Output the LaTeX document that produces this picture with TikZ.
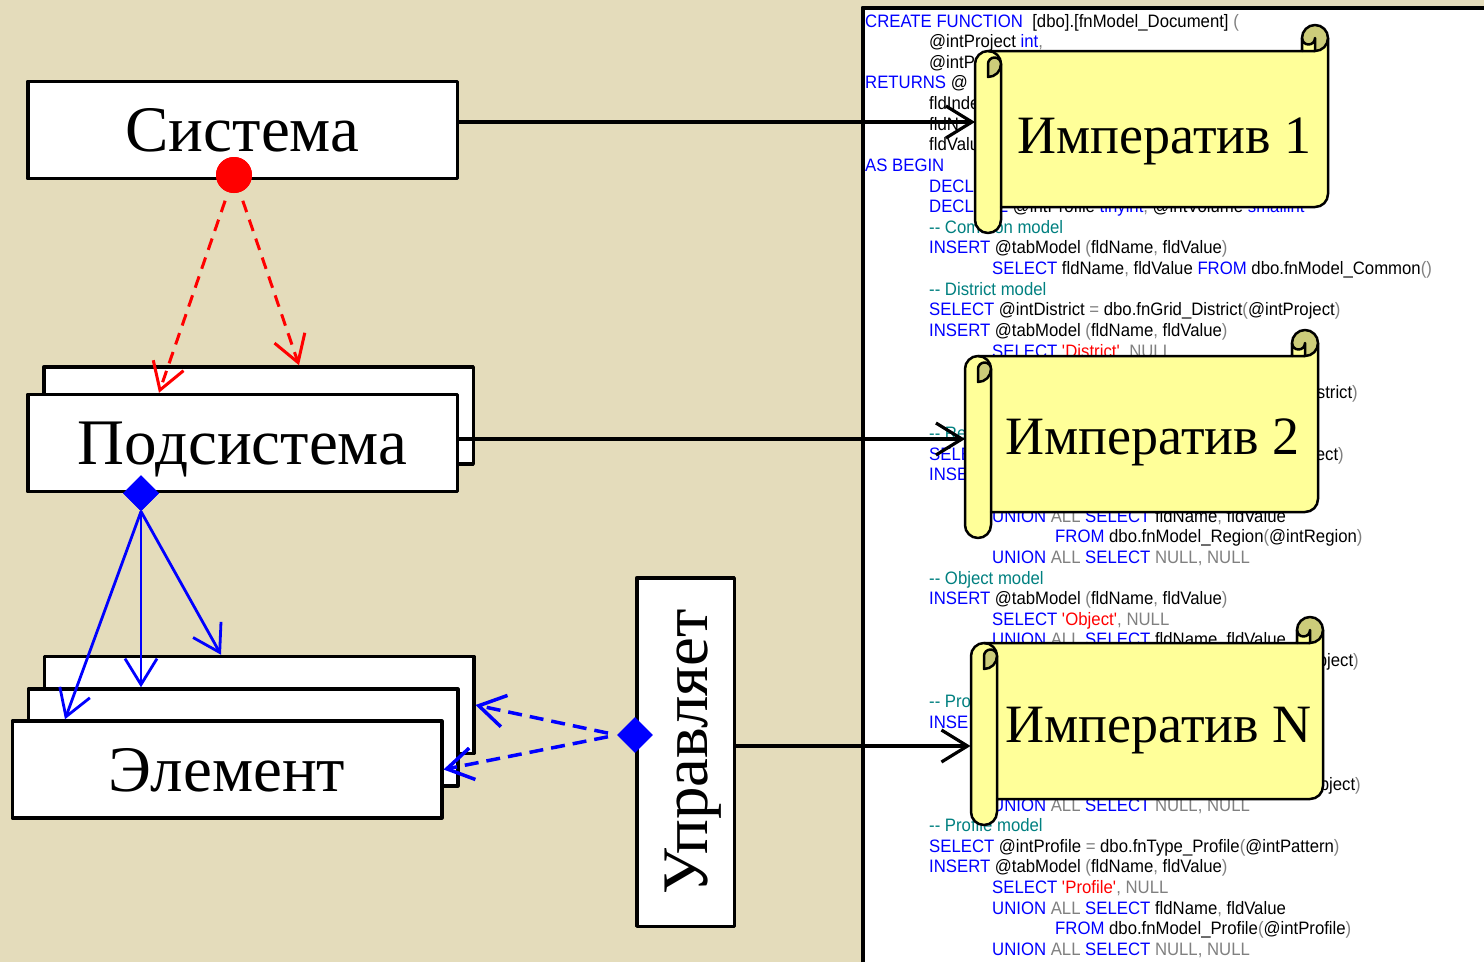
\documentclass[tikz,border=0pt]{standalone}
\usepackage{fontspec}
\setmainfont{Liberation Serif}
\newfontfamily\codefont[FakeStretch=0.93]{Liberation Sans}
\usetikzlibrary{arrows.meta,shapes.geometric,calc}

\definecolor{paper}{RGB}{228,220,187}
\definecolor{scrollyellow}{RGB}{255,255,153}
\definecolor{scrolldark}{RGB}{204,204,122}
\definecolor{sqlblue}{RGB}{0,0,255}
\definecolor{sqlteal}{RGB}{0,128,128}
\definecolor{sqlgray}{RGB}{128,128,128}
\definecolor{sqlred}{RGB}{255,0,0}

\newcommand{\boxfont}{\fontsize{65}{65}\selectfont}
\newcommand{\impfont}{\fontsize{54}{54}\selectfont}
\newcommand{\kw}[1]{\textcolor{sqlblue}{#1}}
\newcommand{\gry}[1]{\textcolor{sqlgray}{#1}}
\newcommand{\cmnt}[1]{\textcolor{sqlteal}{#1}}
\newcommand{\strg}[1]{\textcolor{sqlred}{\textquotesingle#1\textquotesingle}}
\newcommand{\dd}{\mbox{-}\mbox{-}}

% scroll: left, top, right, bottom (y grows downward)
\newcommand{\scrollshape}[4]{%
  \filldraw[scrollbody] ({#1+13},{#2+26}) -- ({#3-26},{#2+26}) -- ({#3-26},{#2+13}) -- (#3,{#2+13})
    -- (#3,{#4-39}) arc[start angle=0,end angle=90,radius=13]
    -- ({#1+26},{#4-26}) -- ({#1+26},{#4-13}) arc[start angle=0,end angle=180,radius=13]
    -- (#1,{#2+39}) arc[start angle=180,end angle=270,radius=13] -- cycle;
  \filldraw[scrollroll] ({#3-13},{#2+13}) circle[radius=13];
  \filldraw[scrollbody] ({#3-26},{#2+13}) arc[start angle=180,end angle=0,radius=6.5]
    -- ({#3-13},{#2+26}) -- ({#3-26},{#2+26}) -- cycle;
  \draw[scrollline] ({#1+13},{#2+26}) arc[start angle=270,end angle=360,radius=13] -- ({#1+26},{#4-26});
  \filldraw[scrollroll] ({#1+13},{#2+52}) arc[start angle=90,end angle=0,radius=13]
    arc[start angle=0,end angle=-180,radius=6.5] -- cycle;
}

\tikzset{
  umlbox/.style={draw, line width=3.5pt, fill=white, minimum width=429.5pt, minimum height=97pt,
    inner sep=0pt, font=\boxfont, text height=43pt, text depth=0pt},
  sqlline/.style={anchor=base west, inner sep=0pt, font=\codefont\fontsize{18}{18}\selectfont},
  sqlright/.style={sqlline, anchor=base east},
  implabel/.style={inner sep=0pt, font=\impfont, text height=36pt, text depth=0pt},
  scrollarea/.style={inner sep=0pt, outer sep=0pt, minimum width=353pt, minimum height=208pt},
  scrollbody/.style={fill=scrollyellow, draw=black, line width=2.5pt},
  scrollroll/.style={fill=scrolldark, draw=black, line width=2.5pt},
  scrollline/.style={draw=black, line width=2.5pt},
  opentip/.style={-{Straight Barb[length=26pt,width=32pt]}},
  wire/.style={opentip, line width=3.2pt},
  reddash/.style={opentip, draw=red, line width=3pt, dash pattern=on 12pt off 8pt, shorten <=9pt},
  bluewire/.style={opentip, draw=blue, line width=2.8pt},
  bluedash/.style={opentip, draw=blue, line width=3.5pt, dash pattern=on 14pt off 8pt, shorten <=9pt},
  bluediam/.style={diamond, fill=blue, minimum width=36pt, minimum height=36pt, inner sep=0pt},
  reddot/.style={circle, fill=red, minimum size=36pt, inner sep=0pt},
}

\begin{document}
\begin{tikzpicture}[x=1pt, y=-1pt, line join=round]
  \useasboundingbox (0,0) rectangle (1484,962);
  \fill[paper] (0,0) rectangle (1484,962);

  % code window
  \fill[white] (862.5,7.5) rectangle (1484,962);
  \draw[line width=4pt] (862.5,962) -- (862.5,7.5) -- (1484,7.5);

  \node[sqlline] (l1) at (865,27.0) {\kw{CREATE FUNCTION}\ \ [dbo].[fnModel\_Document] \gry{(}};
  \node[sqlline] (l2) at (929,47.6) {@intProject \kw{int}\gry{,}};
  \node[sqlline] (l3) at (929,68.3) {@intP};
  \node[sqlline] (l4) at (865,88.9) {\kw{RETURNS} @};
  \node[sqlline] (l5) at (929,109.5) {fldInde};
  \node[sqlline] (l6) at (929,130.2) {fldN};
  \node[sqlline] (l7) at (929,150.8) {fldValu};
  \node[sqlline] (l8) at (865,171.4) {\kw{AS BEGIN}};
  \node[sqlline] (l9) at (929,192.0) {\kw{DECL}};
  \node[sqlline] (l10) at (929,212.7) {\kw{DECLARE} @intProfile \kw{tinyint}\gry{,} @intVolume \kw{smallint}};
  \node[sqlline] (l11) at (929,233.3) {\cmnt{\dd{} Common model}};
  \node[sqlline] (l12) at (929,253.9) {\kw{INSERT} @tabModel \gry{(}fldName\gry{,} fldValue\gry{)}};
  \node[sqlline] (l13) at (992,274.6) {\kw{SELECT} fldName\gry{,} fldValue \kw{FROM} dbo.fnModel\_Common\gry{()}};
  \node[sqlline] (l14) at (929,295.2) {\cmnt{\dd{} District model}};
  \node[sqlline] (l15) at (929,315.8) {\kw{SELECT} @intDistrict \gry{=} dbo.fnGrid\_District\gry{(}@intProject\gry{)}};
  \node[sqlline] (l16) at (929,336.5) {\kw{INSERT} @tabModel \gry{(}fldName\gry{,} fldValue\gry{)}};
  \node[sqlline] (l17) at (992,357.1) {\kw{SELECT} \strg{District}\gry{, NULL}};
  \node[sqlright] (l19) at (1358,398.3) {strict\gry{)}};
  \node[sqlline] (l21) at (929,439.6) {\cmnt{\dd{} Re}};
  \node[sqlline] (l22) at (929,460.2) {\kw{SELE}};
  \node[sqlright] (l22r) at (1344,460.2) {ect\gry{)}};
  \node[sqlline] (l23) at (929,480.9) {\kw{INSE}};
  \node[sqlline] (l25) at (992,522.1) {\kw{UNION} \gry{ALL} \kw{SELECT} fldName\gry{,} fldValue};
  \node[sqlline] (l26) at (1055,542.8) {\kw{FROM} dbo.fnModel\_Region\gry{(}@intRegion\gry{)}};
  \node[sqlline] (l27) at (992,563.4) {\kw{UNION} \gry{ALL} \kw{SELECT} \gry{NULL, NULL}};
  \node[sqlline] (l28) at (929,584.0) {\cmnt{\dd{} Object model}};
  \node[sqlline] (l29) at (929,604.6) {\kw{INSERT} @tabModel \gry{(}fldName\gry{,} fldValue\gry{)}};
  \node[sqlline] (l30) at (992,625.3) {\kw{SELECT} \strg{Object}\gry{, NULL}};
  \node[sqlline] (l31) at (992,645.9) {\kw{UNION} \gry{ALL} \kw{SELECT} fldName\gry{,} fldValue};
  \node[sqlright] (l32) at (1359,666.5) {bject\gry{)}};
  \node[sqlline] (l34) at (929,707.8) {\cmnt{\dd{} Pro}};
  \node[sqlline] (l35) at (929,728.4) {\kw{INSE}};
  \node[sqlright] (l38) at (1361,790.3) {bject\gry{)}};
  \node[sqlline] (l39) at (992,811.0) {\kw{UNION} \gry{ALL} \kw{SELECT} \gry{NULL, NULL}};
  \node[sqlline] (l40) at (929,831.6) {\cmnt{\dd{} Profile model}};
  \node[sqlline] (l41) at (929,852.2) {\kw{SELECT} @intProfile \gry{=} dbo.fnType\_Profile\gry{(}@intPattern\gry{)}};
  \node[sqlline] (l42) at (929,872.9) {\kw{INSERT} @tabModel \gry{(}fldName\gry{,} fldValue\gry{)}};
  \node[sqlline] (l43) at (992,893.5) {\kw{SELECT} \strg{Profile}\gry{, NULL}};
  \node[sqlline] (l44) at (992,914.1) {\kw{UNION} \gry{ALL} \kw{SELECT} fldName\gry{,} fldValue};
  \node[sqlline] (l45) at (1055,934.7) {\kw{FROM} dbo.fnModel\_Profile\gry{(}@intProfile\gry{)}};
  \node[sqlline] (l46) at (992,955.4) {\kw{UNION} \gry{ALL} \kw{SELECT} \gry{NULL, NULL}};

  % scrolls
  \scrollshape{975}{25}{1328}{233}
  \scrollshape{965}{330}{1318}{538}
  \scrollshape{971}{617}{1323}{825}
  \node[scrollarea] (imp1) at (1151.5,129) {};
  \node[scrollarea] (imp2) at (1141.5,434) {};
  \node[scrollarea] (impN) at (1147,721) {};
  \node[implabel] (t1) at (1164.5,135) {Императив 1};
  \node[implabel] (t2) at (1152.5,436) {Императив 2};
  \node[implabel] (tN) at (1158.5,724) {Императив N};

  % classes
  \node[umlbox] (subb) at (258.5,415.5) {};
  \node[umlbox] (subf) at (242.5,443) {Подсистема};
  \node[umlbox] (elb) at (259,705) {};
  \node[umlbox] (elm) at (243,737.5) {};
  \node[umlbox] (elf) at (227,769.5) {Элемент};
  \node[umlbox] (sys) at (242.5,130) {Система};
  \node[umlbox, minimum width=97.5pt, minimum height=348.5pt] (ctrl) at (685.5,752) {};
  \node[implabel, font=\boxfont, text height=43pt, rotate=90] (ctrltxt) at (ctrl.center) {Управляет};

  % links to the imperatives
  \coordinate (a1) at ([yshift=8pt]sys.east);
  \coordinate (a2) at ([yshift=4pt]subf.east);
  \coordinate (a3) at ([yshift=6pt]ctrl.east);
  \draw[wire] (a1) -- (a1 -| imp1.west);
  \draw[wire] (a2) -- (a2 -| imp2.west);
  \draw[wire] (a3) -- (a3 -| impN.west);

  % system -> subsystems
  \node[reddot] (dot) at (234,175) {};
  \draw[reddash] (dot) -- ([xshift=-83.5pt]subf.north);
  \draw[reddash] (dot) -- ([xshift=40.5pt]subb.north);
  \node[reddot] at (dot) {};

  % subsystem -> elements
  \node[bluediam] (agg) at ([xshift=-101.5pt]subf.south) {};
  \draw[bluewire] (agg.south) -- ([xshift=-162pt]elf.north);
  \draw[bluewire] (agg.south) -- ([xshift=-102pt]elm.north);
  \draw[bluewire] (agg.south) -- ([xshift=-38pt]elb.north);
  \node[bluediam] at (agg) {};

  % control -> elements
  \node[bluediam] (ctl) at ([yshift=17pt]ctrl.west) {};
  \draw[bluedash] (ctl.west) -- (elb.east);
  \draw[bluedash] (ctl.west) -- (elf.east);
\end{tikzpicture}
\end{document}
